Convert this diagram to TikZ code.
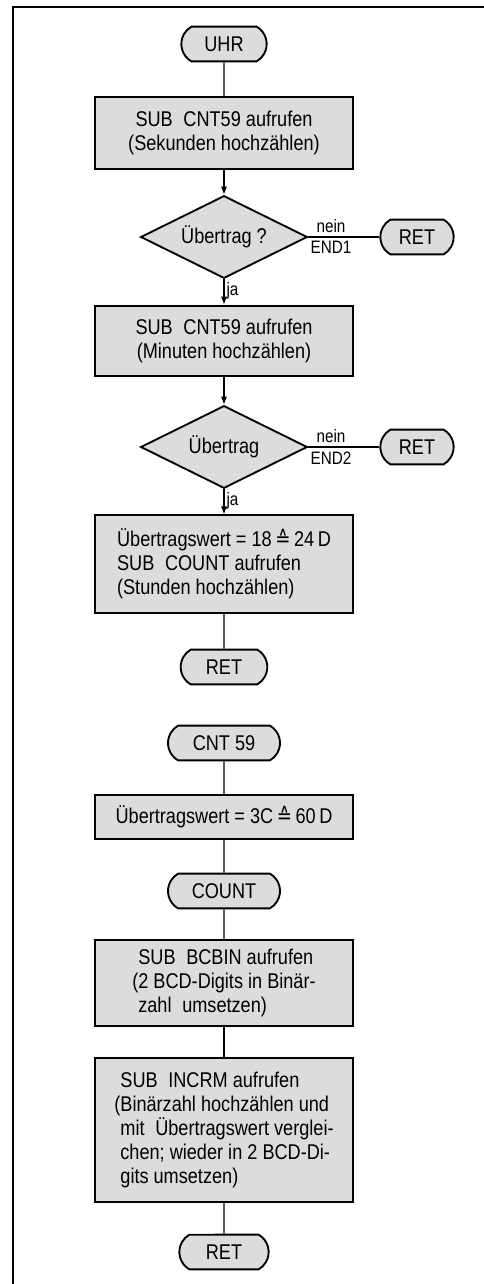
\documentclass[tikz,border=0pt]{standalone}
\usepackage{fontspec}
\setmainfont{Liberation Sans}[FakeStretch=0.85]
\newfontfamily\symfont{DejaVu Sans}[FakeStretch=0.85]
\usetikzlibrary{arrows.meta, shapes.geometric, shapes.misc}
\definecolor{boxgray}{HTML}{DCDCDC}
\newcommand{\corr}{{\symfont ≙}}

\begin{document}
\begin{tikzpicture}[x=0.75pt, y=-0.75pt, >={Latex[length=6pt, width=4.5pt]},
  font=\fontsize{16}{18}\selectfont,
  term/.style={draw, line width=1.4pt, fill=boxgray, rounded rectangle,
    rounded rectangle arc length=120, minimum height=26pt, inner sep=0pt},
  proc/.style={draw, line width=1.4pt, fill=boxgray, minimum width=194pt, inner sep=0pt},
  test/.style={draw, line width=1.4pt, fill=boxgray, diamond, aspect=2, inner sep=0pt,
    minimum width=125pt, minimum height=62pt},
  flow/.style={line width=0.8pt},
  lbl/.style={font=\fontsize{13.5}{15}\selectfont, inner sep=3pt}]

\useasboundingbox (0,0) rectangle (484,1284);

% Frame
\draw[line width=2.2pt] (13,1284) -- (13,7) -- (484,7);

% --- UHR ---
\node[term, minimum width=64pt] (uhr) at (224,44) {UHR};
\node[proc, minimum height=54pt, align=center] (sub1) at (224,133)
  {SUB\enspace CNT59 aufrufen\\(Sekunden hochzählen)};
\node[test] (carry1) at (224,237) {Übertrag ?};
\node[term, minimum width=55pt] (ret1) at (417,237) {RET};
\node[proc, minimum height=53pt, align=center] (sub2) at (224,341)
  {SUB\enspace CNT59 aufrufen\\(Minuten hochzählen)};
\node[test] (carry2) at (224,447) {Übertrag};
\node[term, minimum width=55pt] (ret2) at (417,447) {RET};
\node[proc, minimum height=73pt, align=left] (sub3) at (224,564)
  {Übertragswert = 18\,\corr\,24\,D\\SUB\enspace COUNT aufrufen\\(Stunden hochzählen)};
\node[term, minimum width=65pt] (ret3) at (224,667) {RET};

\draw[flow] (uhr) -- (sub1);
\draw[flow, ->] (sub1) -- (carry1);
\draw[flow] (carry1.east) -- node[lbl, pos=0.32, above] {nein}
  node[lbl, pos=0.32, below] {END1} (ret1.west);
\draw[flow, ->] (carry1) -- node[lbl, pos=0.45, right, inner sep=1.5pt] {ja} (sub2);
\draw[flow, ->] (sub2) -- (carry2);
\draw[flow] (carry2.east) -- node[lbl, pos=0.32, above] {nein}
  node[lbl, pos=0.32, below] {END2} (ret2.west);
\draw[flow, ->] (carry2) -- node[lbl, pos=0.45, right, inner sep=1.5pt] {ja} (sub3);
\draw[flow] (sub3) -- (ret3);

% --- CNT 59 / COUNT ---
\node[term, minimum width=84pt] (cnt) at (224,743) {CNT 59};
\node[proc, minimum height=33pt] (limit) at (224,817) {Übertragswert = 3C\,\corr\,60\,D};
\node[term, minimum width=84pt] (count) at (224,891) {COUNT};
\node[proc, minimum height=64pt, align=left] (bcbin) at (224,983)
  {\phantom{(}SUB\enspace BCBIN aufrufen\\(2 BCD-Digits in Binär-\\\phantom{(}zahl\enspace umsetzen)};
\node[proc, minimum height=108pt, align=left] (incrm) at (224,1130)
  {\phantom{(}SUB\enspace INCRM aufrufen\\(Binärzahl hochzählen und\\\phantom{(}mit\enspace Übertragswert verglei-\\\phantom{(}chen; wieder in 2 BCD-Di-\\\phantom{(}gits umsetzen)};
\node[term, minimum width=67pt] (ret4) at (224,1252) {RET};

\draw[flow] (cnt) -- (limit);
\draw[flow] (limit) -- (count);
\draw[flow] (count) -- (bcbin);
\draw[flow] (bcbin) -- (incrm);
\draw[flow] (incrm) -- (ret4);

\end{tikzpicture}
\end{document}
